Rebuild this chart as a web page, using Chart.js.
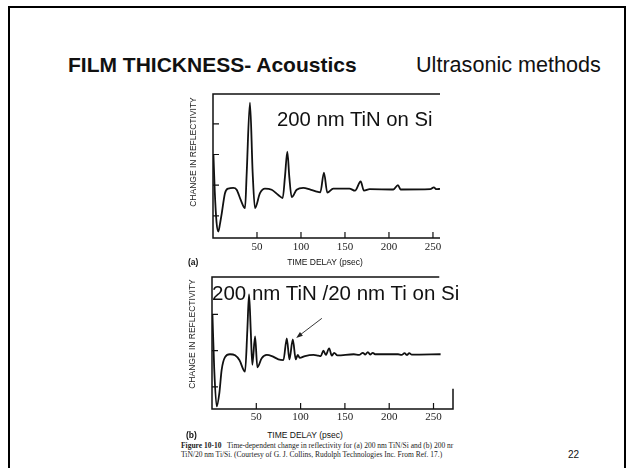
<!DOCTYPE html>
<html><head><meta charset="utf-8">
<script src="https://cdn.jsdelivr.net/npm/chart.js@4.4.0/dist/chart.umd.min.js"></script>
<style>
html,body{margin:0;padding:0;}
body{width:632px;height:468px;background:#fff;position:relative;overflow:hidden;font-family:"Liberation Sans",Arial,sans-serif;color:#111;}
.t{position:absolute;white-space:nowrap;line-height:1;}
#frame{position:absolute;left:8px;top:6px;width:618px;height:490px;border:2px solid #000;box-sizing:border-box;}
.cv{position:absolute;}
.ytitle{position:absolute;white-space:nowrap;font-size:8.5px;line-height:1;transform:translate(-50%,-50%) rotate(-90deg);color:#222;}
.cap{position:absolute;white-space:nowrap;font-family:"Liberation Serif","Times New Roman",serif;font-size:7.5px;line-height:1;color:#222;}
</style></head><body>
<div id="frame"></div>
<div class="t" style="left:68px;top:54px;font-size:21px;font-weight:bold;">FILM THICKNESS- Acoustics</div>
<div class="t" style="left:416px;top:54px;font-size:21.6px;">Ultrasonic methods</div>

<canvas id="c1" class="cv" width="320" height="172" style="left:140px;top:84px;width:320px;height:172px;"></canvas>
<canvas id="c2" class="cv" width="330" height="160" style="left:140px;top:268px;width:330px;height:160px;"></canvas>

<div class="t" style="left:277px;top:109px;font-size:20.3px;">200 nm TiN on Si</div>
<div class="t" style="left:212px;top:283px;font-size:20.5px;">200 nm TiN /20 nm Ti on Si</div>

<div class="ytitle" style="left:193px;top:152px;">CHANGE IN REFLECTIVITY</div>
<div class="ytitle" style="left:192px;top:334px;">CHANGE IN REFLECTIVITY</div>

<div class="t" style="left:188px;top:258px;font-size:8.5px;font-weight:bold;">(a)</div>
<div class="t" style="left:325px;top:258px;font-size:8.5px;transform:translateX(-50%);">TIME DELAY (psec)</div>
<div class="t" style="left:186px;top:431px;font-size:8.5px;font-weight:bold;">(b)</div>
<div class="t" style="left:305px;top:431px;font-size:8.5px;transform:translateX(-50%);">TIME DELAY (psec)</div>

<div class="cap" style="left:181px;top:442px;"><b>Figure 10-10</b>&nbsp;&nbsp; Time-dependent change in reflectivity for (a) 200 nm TiN/Si and (b) 200 nr</div>
<div class="cap" style="left:181px;top:451px;">TiN/20 nm Ti/Si. (Courtesy of G. J. Collins, Rudolph Technologies Inc. From Ref. 17.)</div>
<div class="t" style="left:568px;top:450px;font-size:10px;">22</div>

<script>
// ---- data ----
const topX = [0.5, 2, 4, 6, 8, 10, 13.6, 17.4, 23, 26.9, 31.5, 36.4, 38.3, 42, 45.1, 47.7, 53.4, 59.1, 66.7, 74.2, 79.2, 81.8, 84.5, 86.7, 89.4, 95.1, 102.6, 110, 117.8, 122, 126.1, 129.9, 136.7, 155, 161.4, 167.8, 171.6, 178, 205, 210.2, 213.3, 247, 251, 254, 258];
const topY = [3.0, 1.8, 0.8, 0.49, 0.75, 1.09, 1.74, 1.89, 1.91, 1.85, 1.52, 1.25, 2.39, 4.69, 2.39, 1.25, 1.74, 1.89, 1.85, 1.68, 1.58, 2.28, 3.09, 2.28, 1.61, 1.85, 1.91, 1.86, 1.79, 1.77, 2.41, 1.76, 1.89, 1.89, 1.82, 2.12, 1.82, 1.87, 1.86, 2.0, 1.86, 1.87, 1.93, 1.87, 1.88];
const botX = [0.5, 2.5, 5.3, 8.3, 10.9, 14.7, 20.3, 26, 30.9, 37.3, 39.9, 41.8, 43.7, 45.5, 48.6, 51.2, 56.1, 61.8, 67.5, 74.9, 80.6, 84.4, 87.4, 91.2, 94.5, 96.8, 99, 105, 114.5, 120, 122.8, 125.8, 128.4, 132.2, 135.2, 137.9, 141.6, 160, 166, 170.2, 173, 175.9, 178.5, 181.5, 184, 210, 214, 217.3, 220, 222.6, 225.5, 258];
const botY = [3.0, 1.5, 0.46, 0.83, 1.47, 1.82, 1.90, 1.87, 1.74, 1.42, 2.57, 3.55, 2.57, 1.61, 2.39, 1.54, 1.79, 1.88, 1.85, 1.76, 1.74, 2.34, 1.76, 2.31, 1.76, 1.88, 1.80, 1.85, 1.88, 1.86, 1.85, 2.0, 1.88, 2.06, 1.86, 1.94, 1.87, 1.90, 1.88, 1.94, 1.89, 1.96, 1.89, 1.94, 1.90, 1.90, 1.88, 1.93, 1.88, 1.93, 1.89, 1.90];
const xTicks = [50, 100, 150, 200, 250];
const topYTicks = [1, 2, 3, 4];
const botYTicks = [1, 2, 3];
const arrowFrom = {x: 124, y: 2.89};
const arrowTo = {x: 95, y: 2.35};

const framePlugin = {
  id: 'frameTicks',
  beforeDatasetsDraw(chart, args, o) {
    const {ctx, chartArea: a, scales: {x, y}} = chart;
    ctx.save();
    ctx.strokeStyle = '#111';
    ctx.lineWidth = 1.5;
    ctx.beginPath();
    ctx.moveTo(a.left, a.top); ctx.lineTo(a.left, a.bottom);
    ctx.moveTo(a.left - 0.75, a.bottom); ctx.lineTo(a.right, a.bottom);
    const te = o.topEnd != null ? x.getPixelForValue(o.topEnd) : a.right;
    ctx.moveTo(a.left - 0.75, a.top); ctx.lineTo(te, a.top);
    if (o.rightTo != null) { ctx.moveTo(a.right, a.bottom + 0.75); ctx.lineTo(a.right, y.getPixelForValue(o.rightTo)); }
    ctx.stroke();
    ctx.lineWidth = 1.2;
    ctx.beginPath();
    x.ticks.forEach(t => { const p = x.getPixelForValue(t.value); ctx.moveTo(p, a.bottom); ctx.lineTo(p, a.bottom - o.tickLen); });
    y.ticks.forEach(t => { const p = y.getPixelForValue(t.value); ctx.moveTo(a.left, p); ctx.lineTo(a.left + o.tickLen, p); });
    ctx.stroke();
    ctx.restore();
  },
  afterDatasetsDraw(chart, args, o) {
    if (!o.arrow) return;
    const {ctx, scales: {x, y}} = chart;
    const x1 = x.getPixelForValue(o.arrow.from.x), y1 = y.getPixelForValue(o.arrow.from.y);
    const x2 = x.getPixelForValue(o.arrow.to.x), y2 = y.getPixelForValue(o.arrow.to.y);
    const ang = Math.atan2(y2 - y1, x2 - x1);
    ctx.save();
    ctx.strokeStyle = '#222'; ctx.fillStyle = '#222'; ctx.lineWidth = 0.9;
    ctx.beginPath(); ctx.moveTo(x1, y1); ctx.lineTo(x2 - 4 * Math.cos(ang), y2 - 4 * Math.sin(ang)); ctx.stroke();
    ctx.beginPath();
    ctx.moveTo(x2, y2);
    ctx.lineTo(x2 - 7 * Math.cos(ang - 0.35), y2 - 7 * Math.sin(ang - 0.35));
    ctx.lineTo(x2 - 7 * Math.cos(ang + 0.35), y2 - 7 * Math.sin(ang + 0.35));
    ctx.closePath(); ctx.fill();
    ctx.restore();
  }
};

function makeChart(id, xs, ys, yTicks, cfg) {
  return new Chart(document.getElementById(id), {
    type: 'line',
    data: { datasets: [{ data: xs.map((v, i) => ({x: v, y: ys[i]})), borderColor: '#111', borderWidth: 1.8,
      pointRadius: 0, cubicInterpolationMode: 'monotone', fill: false }] },
    options: {
      responsive: false, animation: false, devicePixelRatio: 1,
      layout: { padding: cfg.padding },
      plugins: { legend: { display: false }, tooltip: { enabled: false },
        frameTicks: { tickLen: 6, topEnd: cfg.topEnd, rightTo: cfg.rightTo, arrow: cfg.arrow } },
      scales: {
        x: { type: 'linear', min: 0, max: cfg.xMax,
          afterBuildTicks: s => { s.ticks = xTicks.map(v => ({value: v})); },
          afterFit: s => { s.height = cfg.xH; },
          grid: { display: false, drawTicks: false }, border: { display: false },
          ticks: { padding: cfg.tickPad, color: '#222', font: { family: '"Liberation Serif", "Times New Roman", serif', size: 11 } } },
        y: { type: 'linear', min: cfg.yMin, max: cfg.yMax,
          afterBuildTicks: s => { s.ticks = yTicks.map(v => ({value: v})); },
          afterFit: s => { s.width = cfg.yW; },
          grid: { display: false, drawTicks: false }, border: { display: false },
          ticks: { display: false } }
      }
    },
    plugins: [framePlugin]
  });
}

makeChart('c1', topX, topY, topYTicks, {
  padding: {top: 10, right: 20, left: 0, bottom: 0}, xH: 18, yW: 73, xMax: 258,
  yMin: 0.28, yMax: 4.97, tickPad: 3
});
makeChart('c2', botX, botY, botYTicks, {
  padding: {top: 9, right: 17, left: 0, bottom: 0}, xH: 19, yW: 72, xMax: 272,
  yMin: 0.39, yMax: 4.03, tickPad: 2, topEnd: 256.5, rightTo: 0.95,
  arrow: {from: arrowFrom, to: arrowTo}
});
</script>
</body></html>
